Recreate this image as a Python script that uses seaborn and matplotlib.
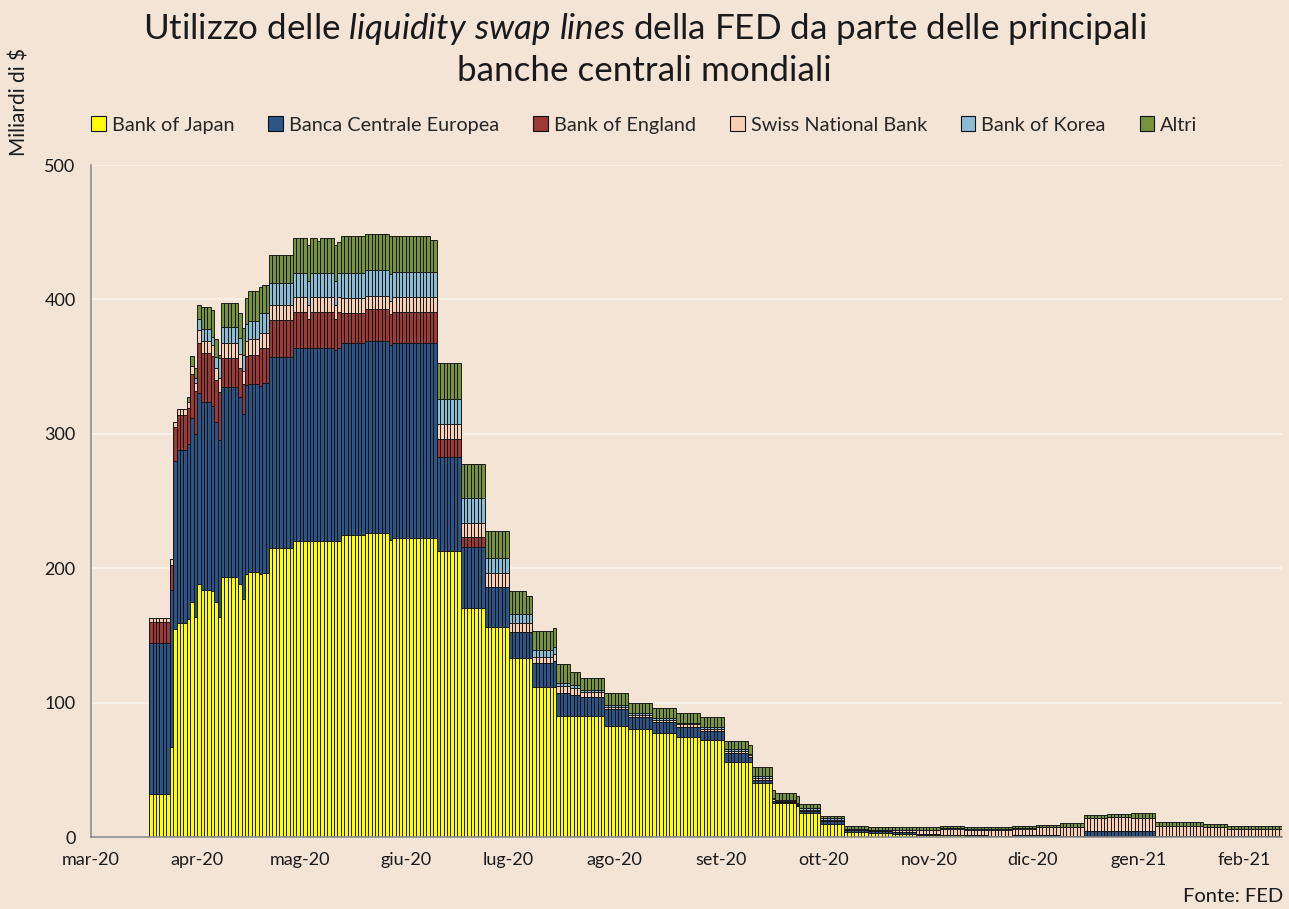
import matplotlib
matplotlib.use("Agg")
import matplotlib.pyplot as plt
import numpy as np
import pandas as pd
import seaborn as sns
from matplotlib.patches import Patch

sns.set_style("white")
plt.rcParams["font.family"] = ["Lato", "DejaVu Sans"]
plt.rcParams["mathtext.fontset"] = "custom"
plt.rcParams["mathtext.rm"] = "Lato"
plt.rcParams["mathtext.it"] = "Lato:italic"

# step data: each row holds from its start date until the next one (miliardi di $)
seg_start = [
    "2020-03-01", "2020-03-18", "2020-03-24", "2020-03-25", "2020-03-26", "2020-03-29",
    "2020-03-30", "2020-03-31", "2020-04-01", "2020-04-02", "2020-04-05", "2020-04-06",
    "2020-04-07", "2020-04-08", "2020-04-13", "2020-04-14", "2020-04-15", "2020-04-16",
    "2020-04-19", "2020-04-20", "2020-04-22", "2020-04-29", "2020-05-03", "2020-05-04",
    "2020-05-06", "2020-05-07", "2020-05-11", "2020-05-12", "2020-05-13", "2020-05-20",
    "2020-05-27", "2020-05-28", "2020-06-08", "2020-06-10", "2020-06-17", "2020-06-24",
    "2020-07-01", "2020-07-06", "2020-07-08", "2020-07-14", "2020-07-15", "2020-07-19",
    "2020-07-22", "2020-07-29", "2020-08-05", "2020-08-12", "2020-08-19", "2020-08-26",
    "2020-09-02", "2020-09-09", "2020-09-10", "2020-09-16", "2020-09-17", "2020-09-23",
    "2020-09-24", "2020-09-30", "2020-10-07", "2020-10-14", "2020-10-21", "2020-10-28",
    "2020-11-04", "2020-11-11", "2020-11-18", "2020-11-25", "2020-12-02", "2020-12-09",
    "2020-12-16", "2020-12-23", "2020-12-30", "2021-01-06", "2021-01-20", "2021-01-27",
    "2021-02-03",
]
japan = [
    0, 32, 67, 154.5, 159, 162,
    174.6, 164, 188, 183.8, 182.8, 175,
    164, 193.7, 188.5, 176.9, 195.9, 196.9,
    195.5, 196.2, 214.8, 220.2, 220.2, 220.2,
    220.2, 220.2, 220, 220.2, 224.5, 226,
    221, 222.6, 222.6, 213, 170.6, 156,
    133, 133, 111.8, 111.8, 90.3, 90.3,
    90.3, 82.8, 80.1, 77.2, 74.6, 72.2,
    56, 56, 40, 25, 25, 23,
    17.5, 10, 3.5, 3.2, 2.5, 1.5,
    1.2, 0.8, 0.5, 0.3, 0.3, 0.3,
    0.4, 0.4, 0.4, 0.2, 0.2, 0.1,
    0.1,
]
ecb = [
    0, 112, 116.5, 125.5, 128.7, 130.4,
    137.3, 135.6, 142, 139.6, 137.9, 133.5,
    131.1, 140.9, 138.7, 137.6, 140.4, 139.9,
    140.3, 141.4, 142.6, 143.4, 143.4, 143.4,
    143.4, 143.4, 142.3, 143.4, 143.2, 143.3,
    145, 145.1, 145.1, 69.5, 45.4, 29.8,
    19.3, 19.3, 17.4, 19.2, 16.6, 15.4,
    14.1, 12.2, 9.4, 8.3, 7.5, 6.5,
    6.7, 3.3, 2.5, 2, 1, 1,
    1.5, 2.2, 1.5, 1.2, 1, 0.8,
    0.6, 0.5, 0.5, 1.5, 1.0, 0.8,
    4, 4.1, 4.1, 0.8, 0.8, 0.8,
    0.8,
]
boe = [
    0, 15.6, 19, 24.7, 26.3, 26.6,
    32.4, 32, 37.3, 36.5, 37.3, 31.5,
    36.3, 21.5, 22, 22.3, 21.6, 21.8,
    27.8, 26, 27.3, 27.3, 21.6, 27.3,
    27.3, 27.3, 23, 27.3, 22.3, 23.3,
    23, 23.2, 23.2, 13.6, 7.5, 0.5,
    0, 0, 0, 0, 0, 0,
    0, 0, 0, 0, 0, 0,
    0, 0, 0, 0, 0, 0,
    0, 0, 0, 0, 0, 0,
    0, 0, 0, 0, 0, 0,
    0, 0, 0, 0, 0, 0,
    0,
]
snb = [
    0, 3.5, 4.2, 3.8, 4.6, 4.3,
    6.1, 6.2, 9.9, 9.4, 8, 8.7,
    9.8, 11.2, 9.9, 9.9, 11.4, 11.7,
    11.2, 11.2, 11.1, 10.7, 10.6, 10.7,
    10.7, 10.7, 10.5, 10.7, 10.8, 9.9,
    10, 10.7, 10.7, 11.2, 10.4, 9.9,
    6.7, 6.7, 5, 5.2, 5.5, 4.9,
    3.2, 2, 1.5, 1.8, 1.8, 1.5,
    1.5, 1.5, 1.4, 1, 0.8, 0.8,
    1.3, 0.8, 0.5, 0.6, 1.5, 2.8,
    4.3, 4.2, 4.5, 4.5, 5.8, 6.6,
    10, 10.1, 9.9, 7.4, 6.4, 5.2,
    4.9,
]
korea = [
    0, 0, 0, 0, 0, 0,
    0, 4, 8.2, 8.7, 6.3, 8.7,
    15.4, 11.9, 11.9, 11.9, 12.1, 13.9,
    14.8, 14.8, 16.2, 17.7, 18, 17.7,
    17.7, 17.7, 18, 17.7, 18.6, 19.4,
    20, 18.9, 18.9, 18.4, 18.6, 11.6,
    6.7, 6.7, 4.9, 4.9, 1.9, 2.5,
    1.8, 1.2, 1, 1.2, 1.1, 1.4,
    1, 1, 1.5, 1, 0.7, 0.7,
    1, 0.8, 0.8, 0.5, 0.3, 0.3,
    0.3, 0.3, 0.3, 0.2, 0.2, 0,
    0, 0, 0, 0, 0, 0,
    0,
]
altri = [
    0, 0, 0, 0, 0, 3.9,
    7.5, 6.9, 10.4, 16.6, 19.7, 12.9,
    2, 18.4, 18.6, 19.9, 19.9, 21.8,
    19.4, 21.1, 21, 26.2, 26.7, 26.2,
    24.3, 26.2, 26.7, 23.6, 27.6, 27.1,
    28, 26.8, 23.5, 26.7, 24.8, 19.9,
    17.3, 13.9, 14.2, 14.2, 14.2, 9.7,
    9.1, 8.7, 7.9, 7.4, 7.5, 7.4,
    6.5, 6.4, 6.9, 6, 5, 5.2,
    3, 2.1, 2.1, 1.7, 1.9, 1.8,
    2, 1.9, 1.9, 1.9, 1.9, 2.7,
    2, 2.5, 3.5, 2.8, 2.5, 2.4,
    2.5,
]
end_date = "2021-02-11"

banks = ["Bank of Japan", "Banca Centrale Europea", "Bank of England",
         "Swiss National Bank", "Bank of Korea", "Altri"]
colors = ["#FFFF00", "#2C5486", "#9B3A37", "#F7CFB5", "#8BBCD3", "#77933C"]

month_labels = ["mar-20", "apr-20", "mag-20", "giu-20", "lug-20", "ago-20",
                "set-20", "ott-20", "nov-20", "dic-20", "gen-21", "feb-21"]

seg = pd.DataFrame(
    {b: v for b, v in zip(banks, [japan, ecb, boe, snb, korea, altri])},
    index=pd.to_datetime(seg_start),
)
days = pd.date_range(seg_start[0], end_date, freq="D")
daily = seg.reindex(days, method="ffill")
daily["day"] = np.arange(len(daily))
cum = daily[banks].cumsum(axis=1)

fig = plt.figure(figsize=(12.89, 9.09), dpi=100)
fig.patch.set_facecolor("#F3E4D6")
ax = fig.add_axes([91 / 1289, 1 - 837 / 909, (1282 - 91) / 1289, (837 - 165) / 909])
ax.set_facecolor("#F3E4D6")

# draw from the top layer down so each lower layer covers the previous one
for i in reversed(range(len(banks))):
    sns.barplot(
        x=daily["day"],
        y=cum[banks[i]],
        color=colors[i],
        saturation=1,
        width=1,
        edgecolor="#111111",
        linewidth=0.65,
        errorbar=None,
        ax=ax,
    )

ax.set_ylim(0, 500)
ax.set_yticks(range(0, 501, 100))
ax.yaxis.grid(True, color="#FBF4EC", linewidth=1.2)
ax.set_axisbelow(True)

month_days = [(pd.Timestamp(m) - days[0]).days for m in
              pd.date_range("2020-03-01", "2021-02-01", freq="MS")]
ax.set_xticks([d - 0.5 for d in month_days])
ax.set_xticklabels(month_labels)
ax.set_xlim(-0.5, len(daily) - 0.5)
ax.set_xlabel("")
ax.set_ylabel("")

for side in ["top", "right"]:
    ax.spines[side].set_visible(False)
for side in ["left", "bottom"]:
    ax.spines[side].set_color("#8C8C8C")
    ax.spines[side].set_linewidth(1.2)
ax.tick_params(axis="both", direction="out", length=5, color="#8C8C8C",
               labelsize=13, labelcolor="#1A1A1A", pad=6)

fig.text(0.5, 1 - 11 / 909,
         "Utilizzo delle $\\mathit{liquidity\\ swap\\ lines}$ della FED da parte delle principali\n"
         "banche centrali mondiali",
         ha="center", va="top", fontsize=25.2, color="#1A1A1A", linespacing=1.32)

handles = [Patch(facecolor=c, edgecolor="#111111", linewidth=0.8) for c in colors]
fig.legend(handles, banks, loc="center", bbox_to_anchor=(0.5, 1 - 125 / 909), ncol=6,
           frameon=False, fontsize=14.3, handlelength=0.75, handleheight=0.75,
           handletextpad=0.3, columnspacing=1.7)

fig.text(20 / 1289, 1 - 156 / 909, "Miliardi di $", rotation=90, ha="center", va="bottom",
         fontsize=15, color="#1A1A1A")
fig.text(1283 / 1289, 1 - 897 / 909, "Fonte: FED", ha="right", va="center",
         fontsize=14.5, color="#1A1A1A")

fig.savefig("out.png", dpi=100, facecolor=fig.get_facecolor())
